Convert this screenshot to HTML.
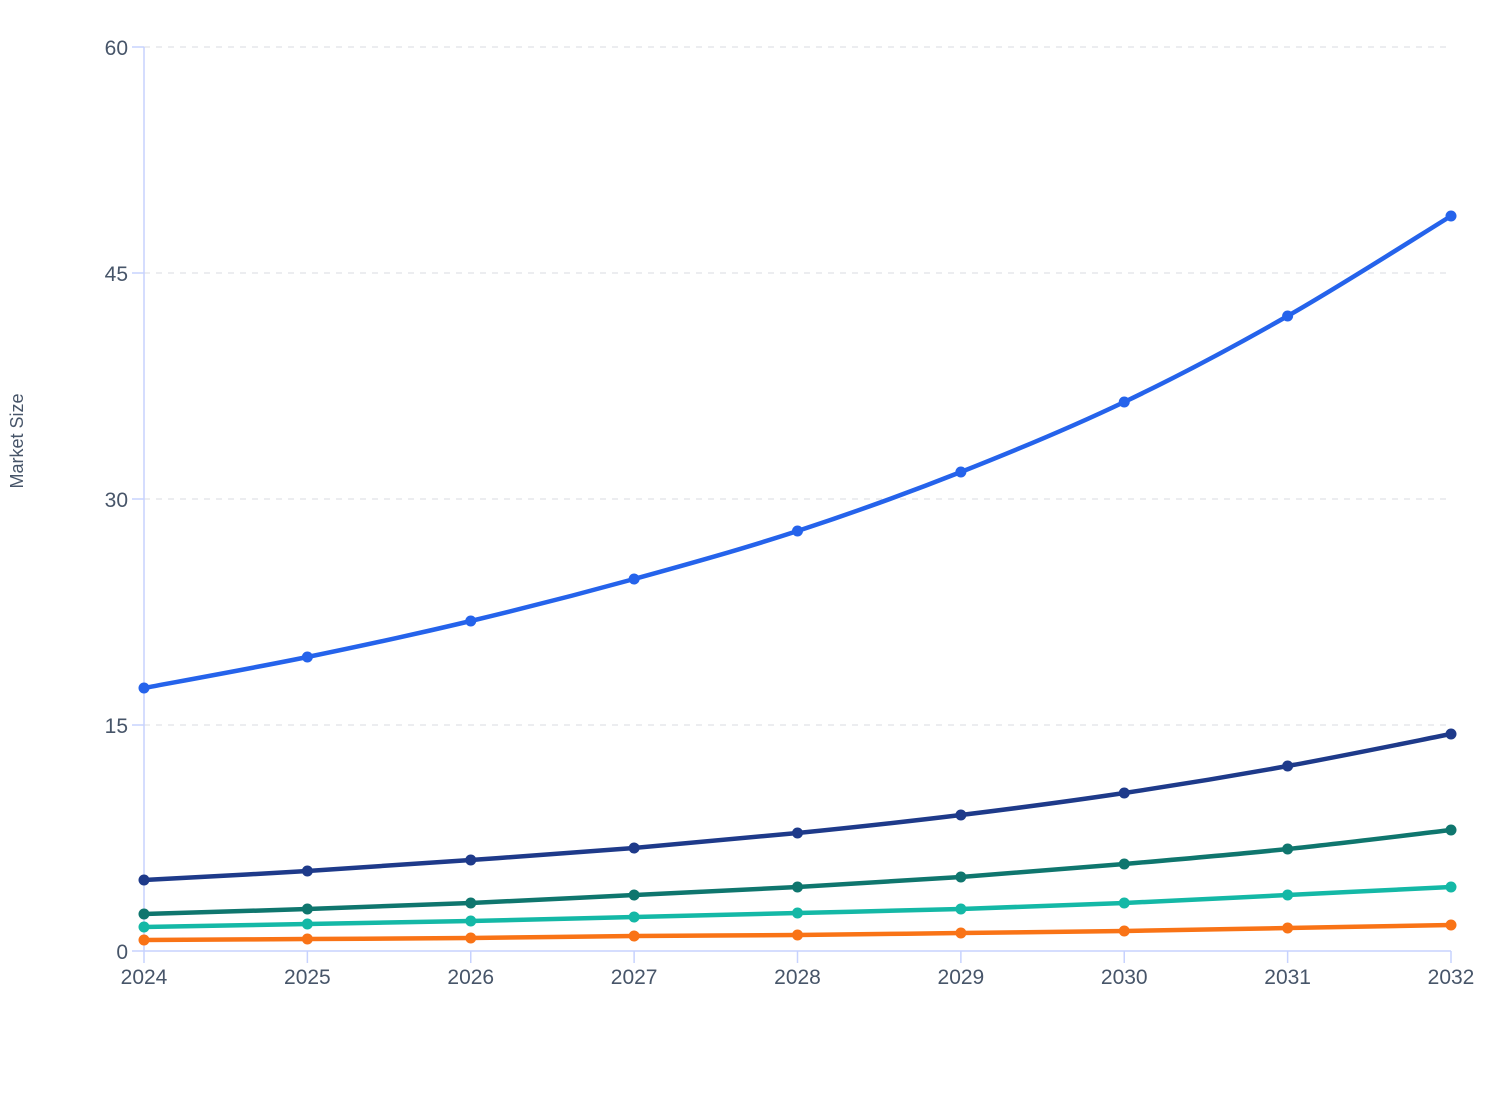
<!DOCTYPE html>
<html><head><meta charset="utf-8"><style>
html,body{margin:0;padding:0;background:#fff;}
svg{display:block;font-family:"Liberation Sans",sans-serif;}
</style></head><body>
<svg id="c" width="1508" height="1120" viewBox="0 0 1508 1120">
<g stroke="#e5e7eb" stroke-width="1.5" stroke-dasharray="6,6">
<line x1="144" y1="47" x2="1451" y2="47"/>
<line x1="144" y1="273" x2="1451" y2="273"/>
<line x1="144" y1="499" x2="1451" y2="499"/>
<line x1="144" y1="725" x2="1451" y2="725"/>
</g>
<g stroke="#c7d2fe" stroke-width="1.5" fill="none">
<line x1="144" y1="47" x2="144" y2="951"/>
<line x1="132" y1="951" x2="1451" y2="951"/>
<line x1="132" y1="47" x2="144" y2="47"/>
<line x1="132" y1="273" x2="144" y2="273"/>
<line x1="132" y1="499" x2="144" y2="499"/>
<line x1="132" y1="725" x2="144" y2="725"/>
</g>
<g id="xt" stroke="#c7d2fe" stroke-width="1.5"></g>
<g fill="#475569" font-size="21" text-anchor="end">
<text x="128" y="55">60</text>
<text x="128" y="281">45</text>
<text x="128" y="507">30</text>
<text x="128" y="733">15</text>
<text x="128" y="959">0</text>
</g>
<g id="xl" fill="#475569" font-size="21" text-anchor="middle"></g>
<text transform="translate(23,441) rotate(-90)" text-anchor="middle" fill="#475569" font-size="18">Market Size</text>
<g id="series"></g>
</svg>
<script>
var ns="http://www.w3.org/2000/svg";
var xs=[];for(var i=0;i<9;i++)xs.push(144+i*(1451-144)/8);
var xt=document.getElementById('xt'),xl=document.getElementById('xl');
xs.forEach(function(x,i){
 var l=document.createElementNS(ns,'line');l.setAttribute('x1',x);l.setAttribute('x2',x);l.setAttribute('y1',951);l.setAttribute('y2',963);xt.appendChild(l);
 var t=document.createElementNS(ns,'text');t.setAttribute('x',x);t.setAttribute('y',984);t.textContent=2024+i;xl.appendChild(t);
});
var S=[
 ['#f97316',[940,939,938,936,935,933,931,928,925]],
 ['#14b8a6',[927,924,921,917,913,909,903,895,887]],
 ['#0f766e',[914,909,903,895,887,877,864,849,830]],
 ['#1e3a8a',[880,871,860,848,833,815,793,766,734]],
 ['#2563eb',[688,657,621,579,531,472,402,316,216]]
];
var g=document.getElementById('series');
S.forEach(function(s){
 var c=s[0],y=s[1],d='M'+xs[0]+','+y[0];
 for(var i=0;i<8;i++){
  var p0=i>0?i-1:i,p3=i<7?i+2:i+1;
  var c1x=xs[i]+(xs[i+1]-xs[p0])/6,c1y=y[i]+(y[i+1]-y[p0])/6;
  var c2x=xs[i+1]-(xs[p3]-xs[i])/6,c2y=y[i+1]-(y[p3]-y[i])/6;
  d+=' C'+c1x+','+c1y+' '+c2x+','+c2y+' '+xs[i+1]+','+y[i+1];
 }
 var p=document.createElementNS(ns,'path');p.setAttribute('d',d);p.setAttribute('fill','none');p.setAttribute('stroke',c);p.setAttribute('stroke-width','4.5');p.setAttribute('stroke-linecap','round');g.appendChild(p);
 y.forEach(function(v,i){var ci=document.createElementNS(ns,'circle');ci.setAttribute('cx',xs[i]);ci.setAttribute('cy',v);ci.setAttribute('r',5.5);ci.setAttribute('fill',c);g.appendChild(ci);});
});
</script>
</body></html>
